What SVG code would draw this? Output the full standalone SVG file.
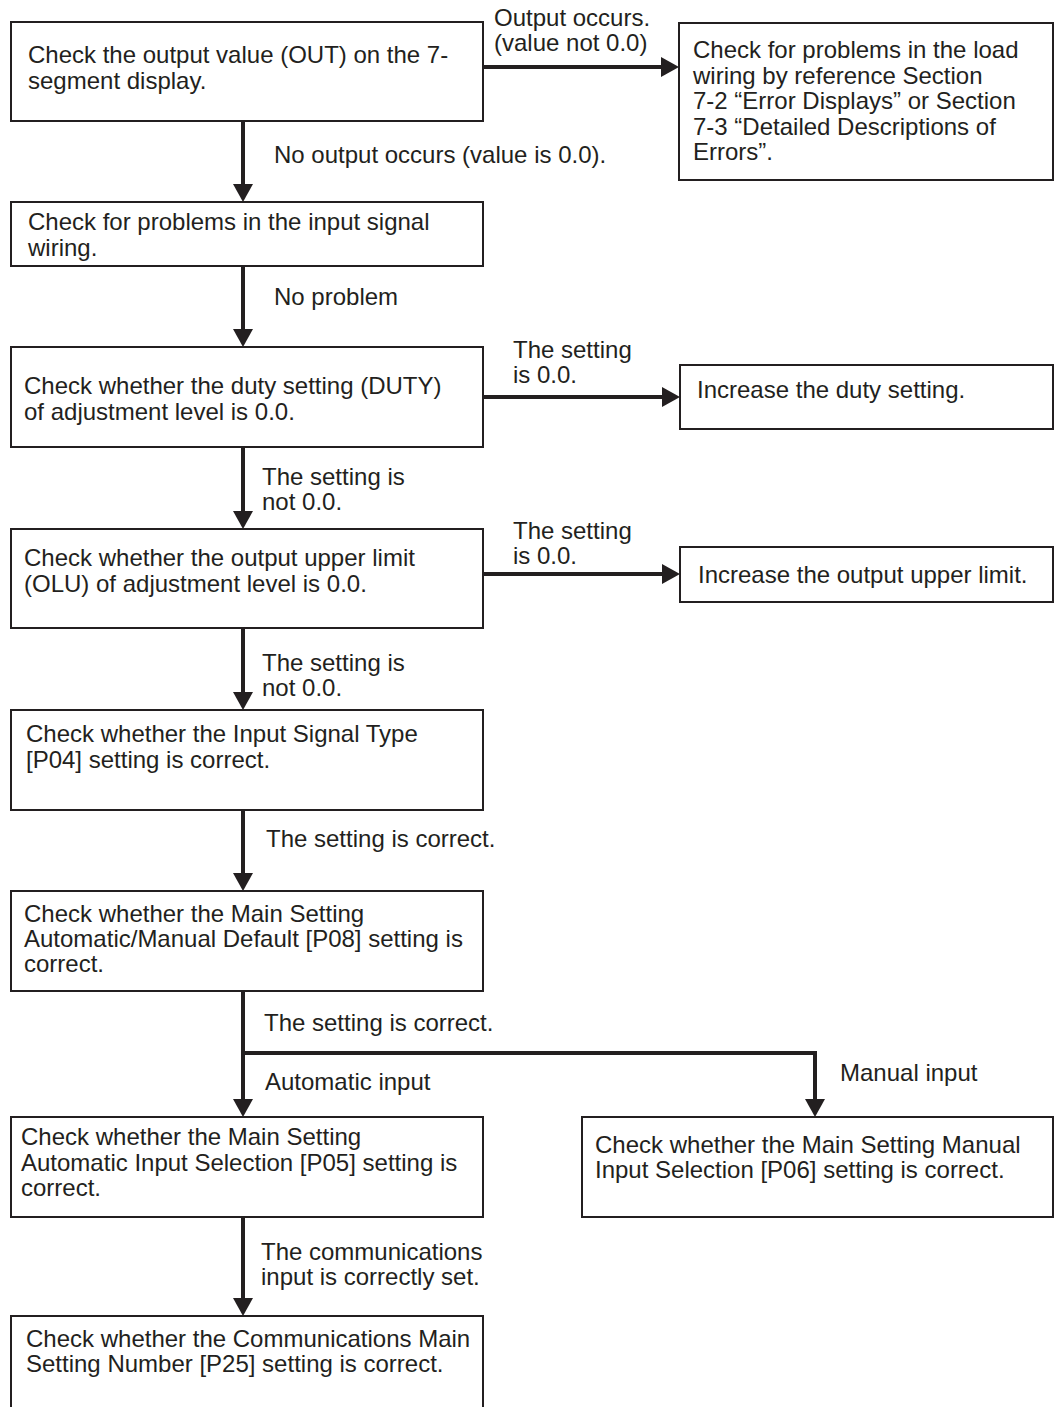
<svg xmlns="http://www.w3.org/2000/svg" width="1056" height="1412" viewBox="0 0 1056 1412">
<style>
  .box { fill: #ffffff; stroke: #231f20; stroke-width: 2; }
  .t { font-family: "Liberation Sans", Arial, sans-serif; font-size: 24px; fill: #231f20; }
  .c { fill: none; stroke: #231f20; stroke-width: 4; stroke-linejoin: miter; }
</style>
<defs>
  <marker id="ah" viewBox="0 0 18 20" refX="6" refY="10" markerWidth="18" markerHeight="20" markerUnits="userSpaceOnUse" orient="auto">
    <path d="M0,0 L18,10 L0,20 z" fill="#231f20"/>
  </marker>
</defs>
<rect width="1056" height="1412" fill="#ffffff"/>

<g id="connectors">
  <path class="c" d="M243,121 V190" marker-end="url(#ah)"/>
  <path class="c" d="M243,266 V335" marker-end="url(#ah)"/>
  <path class="c" d="M243,447 V517" marker-end="url(#ah)"/>
  <path class="c" d="M243,628 V698" marker-end="url(#ah)"/>
  <path class="c" d="M243,810 V879" marker-end="url(#ah)"/>
  <path class="c" d="M243,991 V1105" marker-end="url(#ah)"/>
  <path class="c" d="M243,1053 H815 V1105" marker-end="url(#ah)"/>
  <path class="c" d="M243,1217 V1304" marker-end="url(#ah)"/>
  <path class="c" d="M483,67 H667" marker-end="url(#ah)"/>
  <path class="c" d="M483,397 H668" marker-end="url(#ah)"/>
  <path class="c" d="M483,574 H668" marker-end="url(#ah)"/>
  <g id="connector-labels">
    <text class="t" x="494" y="26">Output occurs.</text>
    <text class="t" x="494" y="51">(value not 0.0)</text>
    <text class="t" x="274" y="163">No output occurs (value is 0.0).</text>
    <text class="t" x="274" y="305">No problem</text>
    <text class="t" x="513" y="358">The setting</text>
    <text class="t" x="513" y="383">is 0.0.</text>
    <text class="t" x="262" y="485">The setting is</text>
    <text class="t" x="262" y="510">not 0.0.</text>
    <text class="t" x="513" y="539">The setting</text>
    <text class="t" x="513" y="564">is 0.0.</text>
    <text class="t" x="262" y="671">The setting is</text>
    <text class="t" x="262" y="696">not 0.0.</text>
    <text class="t" x="266" y="847">The setting is correct.</text>
    <text class="t" x="264" y="1031">The setting is correct.</text>
    <text class="t" x="265" y="1090">Automatic input</text>
    <text class="t" x="840" y="1081">Manual input</text>
    <text class="t" x="261" y="1260">The communications</text>
    <text class="t" x="261" y="1285">input is correctly set.</text>
  </g>
</g>

<g id="n-check-output">
  <rect class="box" x="11" y="22" width="472" height="99"/>
  <text class="t" x="28" y="63">Check the output value (OUT) on the 7-</text>
  <text class="t" x="28" y="89">segment display.</text>
</g>
<g id="n-load-wiring">
  <rect class="box" x="679" y="23" width="374" height="157"/>
  <text class="t" x="693" y="58">Check for problems in the load</text>
  <text class="t" x="693" y="84">wiring by reference Section</text>
  <text class="t" x="693" y="109">7-2 “Error Displays” or Section</text>
  <text class="t" x="693" y="135">7-3 “Detailed Descriptions of</text>
  <text class="t" x="693" y="160">Errors”.</text>
</g>
<g id="n-input-wiring">
  <rect class="box" x="11" y="202" width="472" height="64"/>
  <text class="t" x="28" y="230">Check for problems in the input signal</text>
  <text class="t" x="28" y="256">wiring.</text>
</g>
<g id="n-duty">
  <rect class="box" x="11" y="347" width="472" height="100"/>
  <text class="t" x="24" y="394">Check whether the duty setting (DUTY)</text>
  <text class="t" x="24" y="420">of adjustment level is 0.0.</text>
</g>
<g id="n-inc-duty">
  <rect class="box" x="680" y="365" width="373" height="64"/>
  <text class="t" x="697" y="398">Increase the duty setting.</text>
</g>
<g id="n-olu">
  <rect class="box" x="11" y="529" width="472" height="99"/>
  <text class="t" x="24" y="566">Check whether the output upper limit</text>
  <text class="t" x="24" y="592">(OLU) of adjustment level is 0.0.</text>
</g>
<g id="n-inc-olu">
  <rect class="box" x="680" y="547" width="373" height="55"/>
  <text class="t" x="698" y="583">Increase the output upper limit.</text>
</g>
<g id="n-p04">
  <rect class="box" x="11" y="710" width="472" height="100"/>
  <text class="t" x="26" y="742">Check whether the Input Signal Type</text>
  <text class="t" x="26" y="768">[P04] setting is correct.</text>
</g>
<g id="n-p08">
  <rect class="box" x="11" y="891" width="472" height="100"/>
  <text class="t" x="24" y="922">Check whether the Main Setting</text>
  <text class="t" x="24" y="947">Automatic/Manual Default [P08] setting is</text>
  <text class="t" x="24" y="972">correct.</text>
</g>
<g id="n-p05">
  <rect class="box" x="11" y="1117" width="472" height="100"/>
  <text class="t" x="21" y="1145">Check whether the Main Setting</text>
  <text class="t" x="21" y="1171">Automatic Input Selection [P05] setting is</text>
  <text class="t" x="21" y="1196">correct.</text>
</g>
<g id="n-p06">
  <rect class="box" x="582" y="1117" width="471" height="100"/>
  <text class="t" x="595" y="1153">Check whether the Main Setting Manual</text>
  <text class="t" x="595" y="1178">Input Selection [P06] setting is correct.</text>
</g>
<g id="n-p25">
  <path class="box" d="M11,1407 V1316 H483 V1407" fill="#ffffff"/>
  <text class="t" x="26" y="1347">Check whether the Communications Main</text>
  <text class="t" x="26" y="1372">Setting Number [P25] setting is correct.</text>
</g>
</svg>
